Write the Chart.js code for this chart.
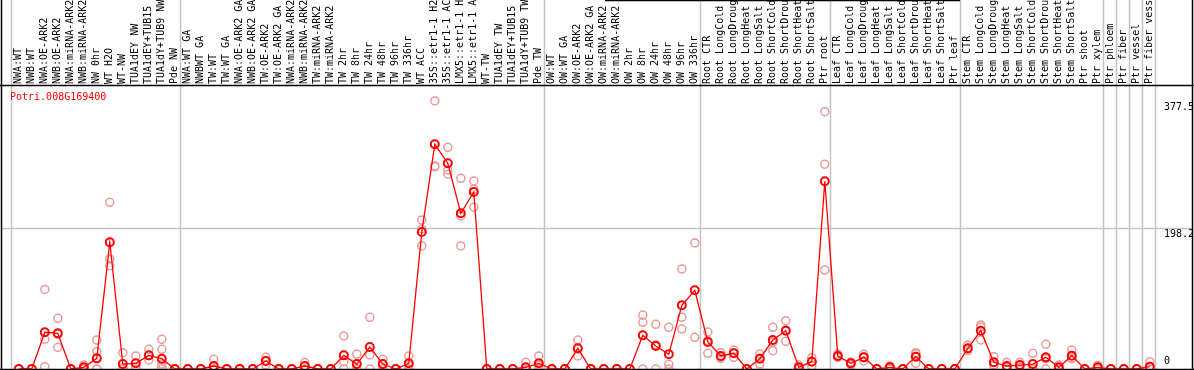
<!DOCTYPE html>
<html><head><meta charset="utf-8">
<script src="https://cdn.jsdelivr.net/npm/chart.js@4/dist/chart.umd.min.js"></script>
<style>html,body{margin:0;padding:0;background:#fff;}#wrap{width:1194px;height:370px;}</style>
</head><body><div id="wrap"><canvas id="c" width="1194" height="370"></canvas></div>
<script>
const categories = ["NWA:WT","NWB:WT","NWA:OE-ARK2","NWB:OE-ARK2","NWA:miRNA-ARK2","NWB:miRNA-ARK2","NW 0hr","WT H2O","WT-NW","TUA1dEY NW","TUA1dEY+TUB15 NW","TUA1dY+TUB9 NW","Pde NW",
"NWA:WT GA","NWBWT GA","TW:WT","TW:WT GA","NWA:OE-ARK2 GA","NWB:OE-ARK2 GA","TW:OE-ARK2","TW:OE-ARK2 GA","NWA:miRNA-ARK2 GA","NWB:miRNA-ARK2 GA","TW:miRNA-ARK2","TW:miRNA-ARK2","TW 2hr","TW 8hr","TW 24hr","TW 48hr","TW 96hr","TW 336hr","WT ACC","35S::etr1-1 H2O","35S::etr1-1 ACC","LMX5::etr1-1 H2O","LMX5::etr1-1 ACC","WT-TW","TUA1dEY TW","TUA1dEY+TUB15 TW","TUA1dY+TUB9 TW","Pde TW",
"OW:WT","OW:WT GA","OW:OE-ARK2","OW:OE-ARK2 GA","OW:miRNA-ARK2","OW:miRNA-ARK2","OW 2hr","OW 8hr","OW 24hr","OW 48hr","OW 96hr","OW 336hr",
"Root CTR","Root LongCold","Root LongDrought","Root LongHeat","Root LongSalt","Root ShortCold","Root ShortDrought","Root ShortHeat","Root ShortSalt","Ptr root",
"Leaf CTR","Leaf LongCold","Leaf LongDrought","Leaf LongHeat","Leaf LongSalt","Leaf ShortCold","Leaf ShortDrought","Leaf ShortHeat","Leaf ShortSalt","Ptr leaf",
"Stem CTR","Stem LongCold","Stem LongDrought","Stem LongHeat","Stem LongSalt","Stem ShortCold","Stem ShortDrought","Stem ShortHeat","Stem ShortSalt","Ptr shoot",
"Ptr xylem","Ptr phloem","Ptr fiber","Ptr vessel","Ptr fiber vessel"];

const meanValues = [0,0,51.7,50.2,0,2.3,15,178.5,7,8,19.2,14.5,0,
0,0,4.2,0,0,0,11.3,0,0,4.2,0,0,19.2,7,31,7,0,8,193,316.5,289.8,219.3,249.3,0,0,0,2.3,8,
0,0,29.1,0,0,0,0,47.4,32.4,20.7,89.7,110.8,
38,18.3,22.1,0,14.5,40.8,54,2.3,10.3,264.4,
18.3,8,16.4,0,2.3,0,17.4,0,0,0,
29.1,54,9.4,4.2,5.6,7,16.4,2.3,18.8,0,
2.3,0,0,0,3.3];

const rep1 = [0,0,112,71.4,0,5.6,40.8,234.8,23,18.3,27.7,41.8,0,
0,0,13.6,0,0,0,16.4,0,0,9,0,0,46.5,21,72.8,13.6,0,18.3,209.9,377.5,312.3,268.6,264.8,0,0,0,9.4,18.3,
0,0,40.8,0,0,0,0,76,62.9,58.7,140.9,177.5,
52.1,23,26.6,0,21,58.7,68,5.6,15.9,362.4,
16.4,10,20.7,0,4.2,0,23,0,0,0,
33.8,62,17.4,9.4,9.4,22.1,34.8,5.6,26.8,0,
5,0,0,0,10.3];
const rep2 = [0,0,41.8,30.5,0,1,24.4,155,2,3,12.7,27.7,0,
0,0,0,0,0,0,5.6,0,0,3.5,0,0,10.3,0,19.7,7,0,5,197.2,286,280.3,215.5,253,0,0,0,0,5,
0,0,18.3,0,0,0,0,65.7,34,6.6,72.8,44.6,
22.1,15,16.4,0,7,25.8,39,1,4.2,288.3,
21,5.6,11.3,0,1,0,8,0,0,0,
26,41,5.6,2,2.3,0,14.5,1,14.5,0,
1.5,0,0,0,0];
const rep3 = [0,0,3.3,49,0,0,0,145.5,0,0,19,7,0,
0,0,0,0,0,0,12,0,0,0,0,0,0,0,0,0,0,0,173.3,285,274.3,173.3,227.8,0,0,0,0,0,
0,0,28,0,0,0,0,0,0,0,56.3,null,
40,17,23,0,15,38,55,0,11,139.5,
17,8,17,0,0,0,21,0,0,0,
28,59,5,0,5,0,0,0,15,0,
0,0,0,0,0];
const rep4 = [null,null,null,null,null,null,0,null,null,null,null,3,null,
null,null,null,null,null,null,null,null,null,null,null,null,null,null,null,null,null,null,null,null,null,null,null,null,null,null,null,null,
null,null,null,null,null,null,null,null,null,null,null,null,
null,null,null,null,null,null,null,null,null,null,
null,null,null,null,null,null,null,null,null,null,
null,null,null,null,null,null,null,null,null,null,
null,null,null,null,null];
const rep5 = [null,null,null,null,null,null,null,null,null,null,null,0,null,
null,null,null,null,null,null,null,null,null,null,null,null,null,null,null,null,null,null,null,null,null,null,null,null,null,null,null,null,
null,null,null,null,null,null,null,null,null,null,null,null,
null,null,null,null,null,null,null,null,null,null,
null,null,null,null,null,null,null,null,null,null,
null,null,null,null,null,null,null,null,null,null,
null,null,null,null,null];

const groupBoundaries = [0,13,41,53,63,73,84,85,86,87,88];
const yTickValues = [377.5,198.2,0];
const gridValue = 198.2;
const geneTitle = "Potri.008G169400";

const FONT = '10px "DejaVu Sans Mono", "Liberation Mono", monospace';
const REP_COLOR = '#eb9a9a';

const decor = {
  id:'decor',
  beforeDatasetsDraw(chart){
    const ctx = chart.ctx, xs = chart.scales.x, ys = chart.scales.y;
    const W = chart.width;
    ctx.save();
    ctx.fillStyle='#fff';
    ctx.fillRect(0,0,W,chart.height);
    ctx.strokeStyle='#c4c4c4'; ctx.lineWidth=1.5;
    const step = xs.getPixelForValue(1)-xs.getPixelForValue(0);
    groupBoundaries.forEach(k=>{
      const x = Math.round(xs.getPixelForValue(0) + step*(k-0.5) - 1.5)+0.5;
      ctx.beginPath(); ctx.moveTo(x,0); ctx.lineTo(x,ys.bottom); ctx.stroke();
    });
    const gy = Math.round(ys.getPixelForValue(gridValue))+0.5;
    ctx.beginPath(); ctx.moveTo(1,gy); ctx.lineTo(W-1,gy); ctx.stroke();
    ctx.save();
    ctx.beginPath(); ctx.rect(0,0,W,85); ctx.clip();
    ctx.font=FONT; ctx.fillStyle='#000'; ctx.textAlign='left'; ctx.textBaseline='middle';
    categories.forEach((lab,i)=>{
      const x = xs.getPixelForValue(i);
      ctx.save(); ctx.translate(x-0.5,84); ctx.rotate(-Math.PI/2);
      ctx.fillText(lab,0,0); ctx.restore();
    });
    ctx.restore();
    ctx.strokeStyle='#000'; ctx.lineWidth=1.5;
    ctx.beginPath();
    ctx.moveTo(0,85.5); ctx.lineTo(W,85.5);
    ctx.moveTo(1.5,0); ctx.lineTo(1.5,ys.bottom+1);
    ctx.moveTo(W-1.5,0); ctx.lineTo(W-1.5,ys.bottom+1);
    ctx.moveTo(605,0.5); ctx.lineTo(960,0.5);
    ctx.stroke();
    ctx.font=FONT; ctx.fillStyle='#ff0000'; ctx.textAlign='left'; ctx.textBaseline='middle';
    ctx.fillText(geneTitle,10,97);
    ctx.fillStyle='#000';
    yTickValues.forEach(v=>{
      const y = ys.getPixelForValue(v);
      if (v===0){ ctx.textBaseline='bottom'; ctx.fillText(String(v),1164,y-3); }
      else { ctx.textBaseline='top'; ctx.fillText(String(v),1164,y+1); }
    });
    ctx.restore();
  },
  afterDatasetsDraw(chart){
    const ctx = chart.ctx, ys = chart.scales.y;
    ctx.save(); ctx.strokeStyle='#000'; ctx.lineWidth=1.5;
    ctx.beginPath(); ctx.moveTo(0,ys.bottom+0.5); ctx.lineTo(chart.width,ys.bottom+0.5); ctx.stroke();
    ctx.restore();
  }
};

function repSet(arr){
  return {type:'line', data:arr, showLine:false, borderColor:REP_COLOR, backgroundColor:'rgba(0,0,0,0)',
    pointRadius:4, pointBorderWidth:1.5, pointHoverRadius:4, clip:{left:8,right:8,top:8,bottom:0}};
}

new Chart(document.getElementById('c'),{
  type:'line',
  data:{labels:categories, datasets:[
    {data:meanValues, borderColor:'#ff0000', borderWidth:1.3, backgroundColor:'rgba(0,0,0,0)',
     pointRadius:4, pointBorderWidth:2, pointBorderColor:'#ff0000', pointBackgroundColor:'rgba(0,0,0,0)',
     tension:0, clip:{left:8,right:8,top:8,bottom:0}},
    repSet(rep1), repSet(rep2), repSet(rep3), repSet(rep4), repSet(rep5)
  ]},
  plugins:[decor],
  options:{
    responsive:false, animation:false, devicePixelRatio:1,
    layout:{autoPadding:false, padding:{left:12.3,right:37.7,top:86,bottom:1}},
    plugins:{legend:{display:false}, tooltip:{enabled:false}},
    scales:{
      x:{type:'category', display:false, offset:true},
      y:{type:'linear', display:false, min:0, max:398.6}
    }
  }
});
</script></body></html>
